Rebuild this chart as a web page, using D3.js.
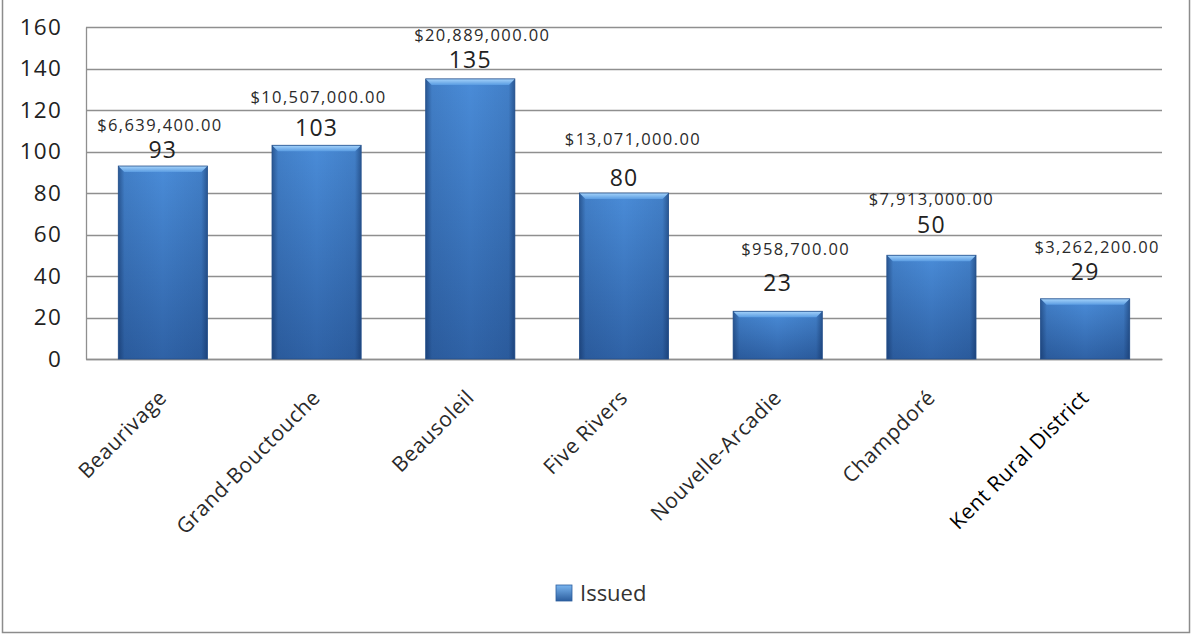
<!DOCTYPE html>
<html>
<head>
<meta charset="utf-8">
<script src="https://cdn.jsdelivr.net/npm/d3@7"></script>
<style>
  html, body { margin: 0; padding: 0; background: #fff; }
  svg { display: block; }
  text { font-family: "Open Sans", sans-serif; }
</style>
</head>
<body>
<svg id="chart" width="1192" height="635"></svg>
<script>
// Building permits issued per community, with total permit value
const communities = ["Beaurivage", "Grand-Bouctouche", "Beausoleil", "Five Rivers",
                     "Nouvelle-Arcadie", "Champdoré", "Kent Rural District"];
const issued = [93, 103, 135, 80, 23, 50, 29];
const permitValue = [6639400, 10507000, 20889000, 13071000, 958700, 7913000, 3262200];
const yTicks = [0, 20, 40, 60, 80, 100, 120, 140, 160];
const seriesName = "Issued";

// Hand-placed label layout (pixels): lift of the count above the bar top,
// lift of the dollar label above the count, horizontal nudge of the dollar label
const countLift = [8, 9, 11, 7, 20, 22, 19];
const dollarLift = [27, 33, 27, 41, 36, 28, 27];
const dollarNudge = [-3, 2, 12, 9, 18, 0, 12];

const svg = d3.select("#chart");
const W = 1192, H = 635;
const plot = { left: 86, right: 1162, top: 27, bottom: 359 };

const x = d3.scaleBand().domain(communities).range([plot.left, plot.right]).paddingInner(0.42).paddingOuter(0.21);
const y = d3.scaleLinear().domain([0, 160]).range([plot.bottom, plot.top]);

// Gradients for the bevelled bars
const defs = svg.append("defs");
const body = defs.append("linearGradient").attr("id", "barBody").attr("x1", 0).attr("y1", 0).attr("x2", 0).attr("y2", 1);
body.append("stop").attr("offset", "0%").attr("stop-color", "#4a8cd8");
body.append("stop").attr("offset", "100%").attr("stop-color", "#2f62a6");
const sides = defs.append("linearGradient").attr("id", "barSides").attr("x1", 0).attr("y1", 0).attr("x2", 1).attr("y2", 0);
sides.append("stop").attr("offset", "0%").attr("stop-color", "#0a2450").attr("stop-opacity", 0.5);
sides.append("stop").attr("offset", "7%").attr("stop-color", "#0a2450").attr("stop-opacity", 0.12);
sides.append("stop").attr("offset", "50%").attr("stop-color", "#0a2450").attr("stop-opacity", 0);
sides.append("stop").attr("offset", "93%").attr("stop-color", "#0a2450").attr("stop-opacity", 0.12);
sides.append("stop").attr("offset", "100%").attr("stop-color", "#0a2450").attr("stop-opacity", 0.5);
const cap = defs.append("linearGradient").attr("id", "barCap").attr("x1", 0).attr("y1", 0).attr("x2", 0).attr("y2", 1);
cap.append("stop").attr("offset", "0%").attr("stop-color", "#a6d4fb");
cap.append("stop").attr("offset", "100%").attr("stop-color", "#5a9ce2");
const legendGrad = defs.append("linearGradient").attr("id", "legendGrad").attr("x1", 0).attr("y1", 0).attr("x2", 0).attr("y2", 1);
legendGrad.append("stop").attr("offset", "0%").attr("stop-color", "#7ab6f0");
legendGrad.append("stop").attr("offset", "100%").attr("stop-color", "#2c5e9e");

// Outer frame
svg.append("rect").attr("x", 2.5).attr("y", -2).attr("width", W - 5).attr("height", H - 0.5)
  .attr("fill", "#fff").attr("stroke", "#8c8c8c").attr("stroke-width", 1.5);

// Gridlines
svg.append("g").selectAll("line").data(yTicks).join("line")
  .attr("x1", plot.left).attr("x2", plot.right)
  .attr("y1", d => Math.round(y(d)) + 0.5).attr("y2", d => Math.round(y(d)) + 0.5)
  .attr("stroke", "#8f8f8f").attr("stroke-width", 1.3);

// Y axis
const yAxis = svg.append("g").attr("transform", `translate(${plot.left},0)`)
  .call(d3.axisLeft(y).tickValues(yTicks).tickSize(0).tickPadding(24).tickFormat(d3.format("d")));
yAxis.select(".domain").attr("stroke", "#8f8f8f").attr("stroke-width", 1.3);
yAxis.selectAll("text").attr("font-size", 22.5).attr("fill", "#222").attr("letter-spacing", 1.2)
  .attr("font-family", "'Open Sans', sans-serif");

// X axis
const xAxis = svg.append("g").attr("transform", `translate(0,${plot.bottom})`)
  .call(d3.axisBottom(x).tickSize(0).tickFormat(""));
xAxis.select(".domain").attr("stroke", "#8f8f8f").attr("stroke-width", 1.3);

// Category labels, rotated
svg.append("g").selectAll("text").data(communities).join("text")
  .attr("transform", d => `translate(${x(d) + x.bandwidth() / 2 + 5},${plot.bottom + 40}) rotate(-45)`)
  .attr("text-anchor", "end")
  .attr("font-size", 21)
  .attr("letter-spacing", 0.5)
  .attr("fill", (d, i) => i === communities.length - 1 ? "#000" : "#2a2a2a")
  .text(d => d);

// Bars
const bars = svg.append("g").selectAll("g").data(communities).join("g");
const bev = 6;
bars.append("rect")
  .attr("x", d => x(d)).attr("width", x.bandwidth())
  .attr("y", (d, i) => y(issued[i])).attr("height", (d, i) => y(0) - y(issued[i]))
  .attr("fill", "url(#barBody)");
bars.append("rect")
  .attr("x", d => x(d)).attr("width", x.bandwidth())
  .attr("y", (d, i) => y(issued[i])).attr("height", (d, i) => y(0) - y(issued[i]))
  .attr("fill", "url(#barSides)");
bars.append("polygon")
  .attr("points", (d, i) => {
    const x0 = x(d), x1 = x(d) + x.bandwidth(), t = y(issued[i]);
    return `${x0},${t} ${x1},${t} ${x1 - bev},${t + bev} ${x0 + bev},${t + bev}`;
  })
  .attr("fill", "url(#barCap)");
bars.append("rect")
  .attr("x", d => x(d)).attr("width", x.bandwidth())
  .attr("y", (d, i) => y(issued[i])).attr("height", (d, i) => y(0) - y(issued[i]))
  .attr("fill", "none").attr("stroke", "#244f8a").attr("stroke-width", 0.8);

// Count labels
svg.append("g").selectAll("text").data(communities).join("text")
  .attr("x", d => x(d) + x.bandwidth() / 2)
  .attr("y", (d, i) => y(issued[i]) - countLift[i])
  .attr("text-anchor", "middle")
  .attr("font-size", 23).attr("letter-spacing", 1.2).attr("fill", "#222")
  .text((d, i) => issued[i]);

// Permit value labels
const money = d3.format("$,.2f");
svg.append("g").selectAll("text").data(communities).join("text")
  .attr("x", (d, i) => x(d) + x.bandwidth() / 2 + dollarNudge[i])
  .attr("y", (d, i) => y(issued[i]) - countLift[i] - dollarLift[i])
  .attr("text-anchor", "middle")
  .attr("font-size", 16.5).attr("letter-spacing", 1.4).attr("fill", "#2a2a2a")
  .text((d, i) => money(permitValue[i]));

// Legend
const legend = svg.append("g").attr("transform", "translate(556,585)");
legend.append("rect").attr("width", 16).attr("height", 16).attr("fill", "url(#legendGrad)")
  .attr("stroke", "#2c5e9e").attr("stroke-width", 0.8);
legend.append("text").attr("x", 24).attr("y", 15.5).attr("font-size", 22).attr("fill", "#333")
  .text(seriesName);
</script>
</body>
</html>
